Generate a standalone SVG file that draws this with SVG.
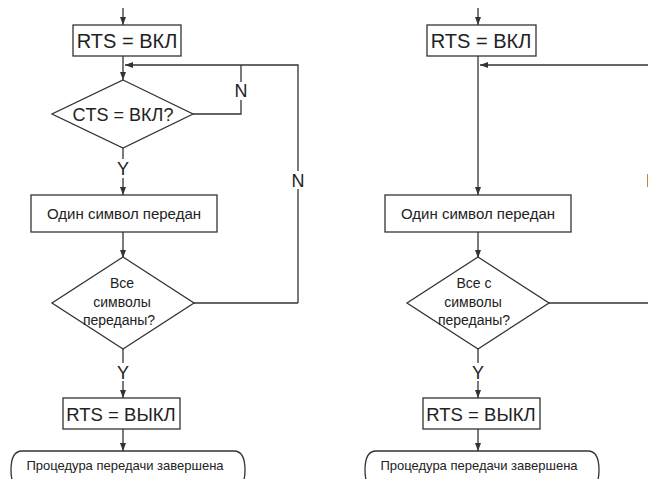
<svg xmlns="http://www.w3.org/2000/svg" width="648" height="479" viewBox="0 0 648 479">
<defs>
<style>
.s{fill:#fff;stroke:#333;stroke-width:1.3}
.c{fill:none;stroke:#333;stroke-width:1.3}
text{font-family:"Liberation Sans",Arial,sans-serif;fill:#222;text-anchor:middle}
.big{font-size:20px}
.off{font-size:18.5px}
.mid{font-size:18px}
.box{font-size:15px}
.dia{font-size:14px}
.term{font-size:13px}
.lab{font-size:18px}
</style>
<marker id="ah" viewBox="0 0 8 6" refX="8" refY="3" markerWidth="8" markerHeight="6" markerUnits="userSpaceOnUse" orient="auto">
<path d="M0,0 L8,3 L0,6 Z" fill="#333"/>
</marker>
</defs>
<rect width="648" height="479" fill="#fff"/>

<g id="connectors">
<!-- left diagram -->
<line class="c" x1="123" y1="8" x2="123" y2="25" marker-end="url(#ah)"/>
<line class="c" x1="123" y1="56" x2="123" y2="80" marker-end="url(#ah)"/>
<polyline class="c" points="298,303 298,189"/>
<polyline class="c" points="298,171 298,65 125,65" marker-end="url(#ah)"/>
<polyline class="c" points="193,114 241,114 241,100"/>
<line class="c" x1="241" y1="82" x2="241" y2="65"/>
<line class="c" x1="193" y1="303" x2="298" y2="303"/>
<line class="c" x1="123" y1="148" x2="123" y2="159"/>
<line class="c" x1="123" y1="178" x2="123" y2="195" marker-end="url(#ah)"/>
<line class="c" x1="123" y1="232" x2="123" y2="258" marker-end="url(#ah)"/>
<line class="c" x1="123" y1="349" x2="123" y2="363"/>
<line class="c" x1="123" y1="381" x2="123" y2="398" marker-end="url(#ah)"/>
<line class="c" x1="123" y1="429" x2="123" y2="451" marker-end="url(#ah)"/>
<!-- right diagram -->
<line class="c" x1="478" y1="8" x2="478" y2="25" marker-end="url(#ah)"/>
<line class="c" x1="478" y1="56" x2="478" y2="195" marker-end="url(#ah)"/>
<line class="c" x1="650" y1="65" x2="480" y2="65" marker-end="url(#ah)"/>
<line class="c" x1="549" y1="303" x2="650" y2="303"/>
<line class="c" x1="478" y1="232" x2="478" y2="258" marker-end="url(#ah)"/>
<line class="c" x1="478" y1="349" x2="478" y2="363"/>
<line class="c" x1="478" y1="381" x2="478" y2="398" marker-end="url(#ah)"/>
<line class="c" x1="478" y1="429" x2="478" y2="451" marker-end="url(#ah)"/>
<!-- labels -->
<text class="lab" x="241" y="97">N</text>
<text class="lab" x="298" y="187">N</text>
<text class="lab" x="123" y="175">Y</text>
<text class="lab" x="123" y="379">Y</text>
<text class="lab" x="478" y="379">Y</text>
<text class="lab" x="646" y="187" style="text-anchor:start">N</text>
</g>

<g id="L_rts_on">
<rect class="s" x="73" y="25" width="108" height="31"/>
<text class="big" x="127" y="47.5">RTS = ВКЛ</text>
</g>
<g id="L_cts">
<polygon class="s" points="123,80 193,114 123,148 52,114"/>
<text class="mid" x="123" y="120.5">CTS = ВКЛ?</text>
</g>
<g id="L_sent">
<rect class="s" x="31" y="195" width="186" height="37"/>
<text class="box" x="124" y="219">Один символ передан</text>
</g>
<g id="L_all">
<polygon class="s" points="123,257 194,303 123,349 52,303"/>
<text class="dia" x="122" y="288">Все</text>
<text class="dia" x="122" y="307">символы</text>
<text class="dia" x="119" y="325">переданы?</text>
</g>
<g id="L_rts_off">
<rect class="s" x="63" y="398" width="117" height="31"/>
<text class="off" x="121" y="421">RTS = ВЫКЛ</text>
</g>
<g id="L_end">
<path class="s" d="M22,451 H234 Q245,451 245,470 Q245,489 234,489 H22 Q11,489 11,470 Q11,451 22,451 Z"/>
<text class="term" x="125" y="469.5">Процедура передачи завершена</text>
</g>

<g id="R_rts_on">
<rect class="s" x="427" y="25" width="109" height="31"/>
<text class="big" x="481" y="47.5">RTS = ВКЛ</text>
</g>
<g id="R_sent">
<rect class="s" x="385" y="195" width="186" height="37"/>
<text class="box" x="478" y="219">Один символ передан</text>
</g>
<g id="R_all">
<polygon class="s" points="478,257 549,303 478,349 407,303"/>
<text class="dia" x="474" y="288">Все с</text>
<text class="dia" x="473" y="307">символы</text>
<text class="dia" x="474" y="325">переданы?</text>
</g>
<g id="R_rts_off">
<rect class="s" x="423" y="398" width="117" height="31"/>
<text class="off" x="481" y="421">RTS = ВЫКЛ</text>
</g>
<g id="R_end">
<path class="s" d="M376,451 H588 Q599,451 599,470 Q599,489 588,489 H376 Q365,489 365,470 Q365,451 376,451 Z"/>
<text class="term" x="479" y="469.5">Процедура передачи завершена</text>
</g>
</svg>
